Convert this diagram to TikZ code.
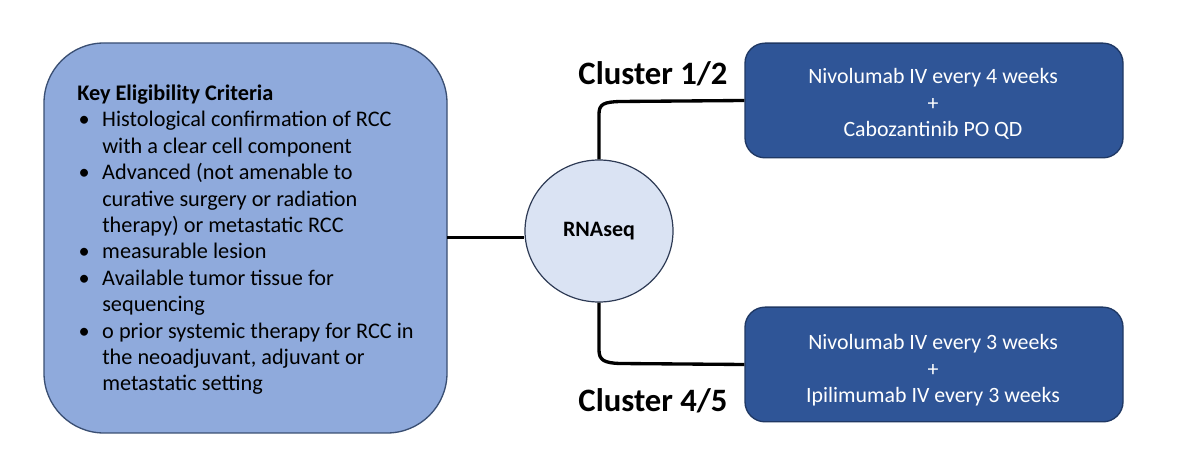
\documentclass[tikz,border=0pt]{standalone}
\usepackage{fontspec}
\setmainfont{Carlito}
\usetikzlibrary{shapes.geometric}
\definecolor{leftfill}{HTML}{8FAADC}
\definecolor{leftdraw}{HTML}{3A4F73}
\definecolor{circfill}{HTML}{DAE3F3}
\definecolor{circdraw}{HTML}{2E3B55}
\definecolor{boxfill}{HTML}{2F5597}
\definecolor{boxdraw}{HTML}{1F3864}
\newcommand{\bul}{\makebox[18.75pt][l]{\hspace{1pt}\textbullet}}
\newcommand{\ind}{\hspace*{18.75pt}}
\begin{document}
\begin{tikzpicture}[x=0.75pt,y=-0.75pt,
  criteria/.style={draw=leftdraw,fill=leftfill,line width=1pt,rounded corners=45pt},
  rnacirc/.style={ellipse,draw=circdraw,fill=circfill,line width=0.9pt,minimum width=111pt,minimum height=106.5pt,inner sep=0pt,font=\fontsize{16.5}{18}\selectfont\bfseries},
  armbox/.style={draw=boxdraw,fill=boxfill,line width=1pt,rounded corners=15pt,minimum width=283.5pt,minimum height=86pt},
  armtext/.style={text=white,align=center,inner sep=0pt,font=\fontsize{16.4}{19.9}\selectfont},
  conn/.style={line width=2.5pt,black},
  clusterlbl/.style={font=\fontsize{24.5}{28}\selectfont\bfseries}]
\useasboundingbox (0,0) rectangle (1200,466);
\fill[white] (0,0) rectangle (1200,466);
% left box
\draw[criteria] (44,43) rectangle (447,433);
\coordinate (lbx) at (447,237.5);
\node[anchor=base west,align=left,inner sep=0pt,font=\fontsize{16.7}{19.8}\selectfont] (crit) at (77,391)
 {\textbf{Key Eligibility Criteria}\\
  \bul Histological confirmation of RCC\\
  \ind with a clear cell component\\
  \bul Advanced (not amenable to\\
  \ind curative surgery or radiation\\
  \ind therapy) or metastatic RCC\\
  \bul measurable lesion\\
  \bul Available tumor tissue for\\
  \ind sequencing\\
  \bul o prior systemic therapy for RCC in\\
  \ind the neoadjuvant, adjuvant or\\
  \ind metastatic setting};
% circle
\node[rnacirc] (rna) at (599,231) {RNAseq};
% right boxes
\node[armbox] (top) at (934,100.5) {};
\node[armtext,anchor=base] (toptext) at (933,137) {Nivolumab IV every 4 weeks\\+\\Cabozantinib PO QD};
\node[armbox] (bot) at (934,364.5) {};
\node[armtext,anchor=base] (bottext) at (933,403) {Nivolumab IV every 3 weeks\\+\\Ipilimumab IV every 3 weeks};
% labels
\node[clusterlbl] (c12) at (653,74) {Cluster 1/2};
\node[clusterlbl] (c45) at (653,401) {Cluster 4/5};
% connectors
\draw[conn] (lbx) -- (lbx -| rna.west);
\coordinate (t1) at (599,114);
\coordinate (t2) at (620,101.5);
\draw[conn] (rna.north) -- (t1) .. controls (599,104) and (604,102) .. (t2) -- (top.west);
\coordinate (b1) at (599,350);
\coordinate (b2) at (620,363.5);
\draw[conn] (rna.south) -- (b1) .. controls (599,360) and (604,363) .. (b2) -- (bot.west);
\end{tikzpicture}
\end{document}
